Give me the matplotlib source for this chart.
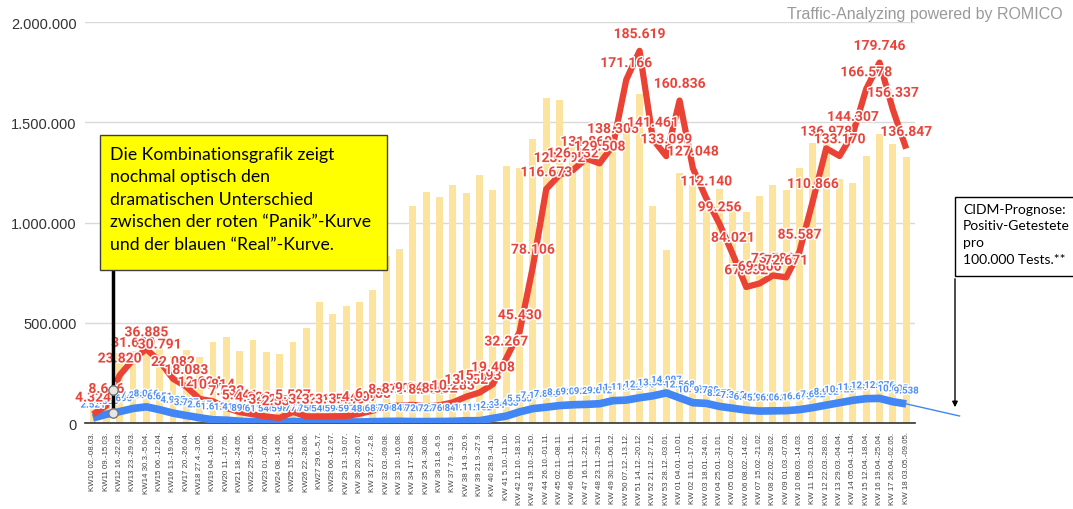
import numpy as np
import matplotlib
matplotlib.use('Agg')
from matplotlib import pyplot as plt
from matplotlib import patheffects as pe
from matplotlib.patches import Rectangle, FancyArrowPatch
from matplotlib.ticker import FuncFormatter

plt.rcParams['font.family'] = ['Liberation Sans', 'DejaVu Sans']

weeks = [
    'KW10 02.-08.03.', 'KW11 09.-15.03.', 'KW12 16.-22.03.', 'KW13 23.-29.03.',
    'KW14 30.3.-5.04.', 'KW15 06.-12.04.', 'KW16 13.-19.04.', 'KW17 20.-26.04.',
    'KW18 27.4.-3.05.', 'KW19 04.-10.05.', 'KW20 11.-17.05.', 'KW21 18.-24.05.',
    'KW22 25.-31.05.', 'KW23 01.-07.06.', 'KW24 08.-14.06.', 'KW25 15.-21.06.',
    'KW26 22.-28.06.', 'KW27 29.6.-5.7.', 'KW28 06.-12.07.', 'KW 29 13.-19.07.',
    'KW 30 20.-26.07.', 'KW 31 27.7.-2.8.', 'KW 32 03.-09.08.', 'KW 33 10.-16.08.',
    'KW 34 17.-23.08.', 'KW 35 24.-30.08.', 'KW 36 31.8.-6.9.', 'KW 37 7.9.-13.9.',
    'KW 38 14.9.-20.9.', 'KW 39 21.9.-27.9.', 'KW 40 28.9.-4.10.', 'KW 41 5.10.-11.10.',
    'KW 42 12.10.-18.10.', 'KW 43 19.10.-25.10.', 'KW 44 26.10.-01.11.', 'KW 45 02.11.-08.11.',
    'KW 46 09.11.-15.11.', 'KW 47 16.11.-22.11.', 'KW 48 23.11.-29.11.', 'KW 49 30.11.-06.12.',
    'KW 50 07.12.-13.12.', 'KW 51 14.12.-20.12.', 'KW 52 21.12.-27.12.', 'KW 53 28.12.-03.01.',
    'KW 01 04.01.-10.01.', 'KW 02 11.01.-17.01.', 'KW 03 18.01.-24.01.', 'KW 04 25.01.-31.01.',
    'KW 05 01.02.-07.02.', 'KW 06 08.02.-14.02.', 'KW 07 15.02.-21.02.', 'KW 08 22.02.-28.02.',
    'KW 09 01.03.-07.03.', 'KW 10 08.03.-14.03.', 'KW 11 15.03.-21.03.', 'KW 12 22.03.-28.03.',
    'KW 13 29.03.-04.04.', 'KW 14 05.04.-11.04.', 'KW 15 12.04.-18.04.', 'KW 16 19.04.-25.04.',
    'KW 17 26.04.-02.05.', 'KW 18 03.05.-09.05.',
]

# Anzahl Tests pro Woche (Balken)
tests = [
    120000, 127000, 349000, 361000, 408000, 380000, 332000, 364000, 327000, 404000,
    429000, 360000, 414000, 354000, 344000, 404000, 474000, 604000, 544000, 584000,
    604000, 665000, 833000, 868000, 1084000, 1151000, 1126000, 1189000, 1147000, 1237000,
    1162000, 1280000, 1272000, 1416000, 1623000, 1611000, 1420000, 1410000, 1390000, 1364000,
    1490000, 1640000, 1084000, 864000, 1245000, 1185000, 1060000, 1167000, 1067000, 1054000,
    1134000, 1189000, 1162000, 1272000, 1397000, 1408000, 1217000, 1195000, 1333000, 1441000,
    1390000, 1325000,
]

# rote "Panik"-Kurve
panik = [
    4324, 8646, 23820, 31630, 36885, 30791, 22082, 18083, 12024, 10814,
    7532, 5441, 4322, 3226, 2531, 5527, 3323, 3318, 3352, 3445,
    4607, 6185, 8275, 8702, 9048, 8284, 8832, 10283, 13152, 15193,
    19408, 32267, 45430, 78106, 116673, 123792, 126132, 131869, 129508, 138305,
    171166, 185619, 141461, 133099, 160836, 127048, 112140, 99256, 84021, 67832,
    69600, 73582, 72671, 85587, 110866, 136978, 133170, 144307, 166578, 179746,
    156337, 136847,
]

# blaue "Real"-Kurve
real = [
    2521, 4330, 5690, 7253, 8066, 6651, 4935, 3727, 2617, 1612,
    1413, 890, 611, 546, 598, 777, 750, 540, 594, 597,
    486, 687, 796, 847, 720, 722, 760, 841, 1115, 1152,
    2331, 3453, 5550, 7171, 7886, 8693, 9092, 9293, 9612, 11140,
    11422, 12596, 13560, 14997, 12568, 10120, 9788, 8273, 7362, 6452,
    5962, 6061, 6164, 6673, 7682, 8932, 10120, 11320, 12140, 12276,
    10605, 9538,
]
prognose_end = 3500

box_text = ('Die Kombinationsgrafik zeigt\nnochmal optisch den\ndramatischen Unterschied\n'
            'zwischen der roten \u201cPanik\u201d-Kurve\nund der blauen \u201cReal\u201d-Kurve.')
side_text = 'CIDM-Prognose:\nPositiv-Getestete\npro\n100.000 Tests.**'


def de(v):
    return f'{int(round(v)):,}'.replace(',', '.')


W, H = 1073, 510
fig = plt.figure(figsize=(W / 100, H / 100), dpi=100)
ax = fig.add_axes([85 / W, 1 - 424 / H, (915 - 85) / W, (424 - 23) / H])

x = np.arange(len(weeks))
ax.bar(x, tests, width=0.52, color='#fde49e', zorder=2)
ax.set_xlim(-0.6, len(weeks) - 0.34)
ax.set_ylim(0, 2000000)
ax.set_yticks(np.arange(0, 2000001, 500000))
ax.yaxis.set_major_formatter(FuncFormatter(lambda v, p: de(v)))
ax.grid(axis='y', color='#d9d9d9', lw=1)
ax.set_axisbelow(True)
for s in ['top', 'right', 'left']:
    ax.spines[s].set_visible(False)
ax.spines['bottom'].set_color('#333333')
ax.spines['bottom'].set_linewidth(1.2)
ax.tick_params(axis='y', length=0, pad=6, labelsize=10.5, labelcolor='#333333')
ax.set_xticks(x)
ax.set_xticklabels(weeks, rotation=90, fontsize=5.7, color='#444444')
ax.tick_params(axis='x', length=0, pad=6)

# Kurven auf zweiter Achse (0 - 200.000)
ax2 = ax.twinx()
ax2.set_ylim(0, 200000)
ax2.axis('off')

ax2.plot(x, real, color='#4285f4', lw=5.5, solid_capstyle='butt', zorder=2)
ax2.plot(x, panik, color='#ea4335', lw=4.5, solid_capstyle='butt', zorder=3)
ax2.plot([x[-1], x[-1] + 4], [real[-1], prognose_end], color='#4285f4', lw=1,
         clip_on=False, zorder=2)

halo = [pe.withStroke(linewidth=2, foreground='white')]
for xi, v in zip(x, real):
    ax2.annotate(de(v), (xi, v), xytext=(0, 6), textcoords='offset points',
                 ha='center', va='bottom', fontsize=7, fontweight='bold',
                 family=['Roboto', 'DejaVu Sans'], color='#4f8ef5',
                 path_effects=halo, zorder=4)
for xi, v in zip(x, panik):
    ax2.annotate(de(v), (xi, v), xytext=(0, 7), textcoords='offset points',
                 ha='center', va='bottom', fontsize=10, fontweight='bold',
                 family=['Roboto', 'DejaVu Sans'], color='#e8453c',
                 path_effects=halo, zorder=5)

# Hinweis-Linie mit Markierungen zwischen KW11 und KW12
mx = 1.5
ry = np.interp(mx, x, panik)
by = np.interp(mx, x, real)
ax2.plot([mx, mx], [by, 100000], color='black', lw=2.5, zorder=6, clip_on=False)
ax2.scatter([mx, mx], [ry, by], s=45, facecolor='#e6e6e6', edgecolor='#777777',
            lw=1, zorder=7)

# gelbe Textbox
fig.add_artist(Rectangle((100 / W, 1 - 271 / H), 287 / W, 135 / H,
                         transform=fig.transFigure, facecolor='#ffff00',
                         edgecolor='#404040', lw=1, zorder=5))
fig.text(110 / W, 1 - 147 / H, box_text, ha='left', va='top', fontsize=12.7,
         family=['Lato', 'DejaVu Sans'], linespacing=1.5, zorder=6)

# rechte Box mit Pfeil
fig.add_artist(Rectangle((955 / W, 1 - 277 / H), 130 / W, 79 / H,
                         transform=fig.transFigure, fill=False,
                         edgecolor='black', lw=1, zorder=5))
fig.text(963 / W, 1 - 204 / H, side_text, ha='left', va='top', fontsize=10,
         family=['Lato', 'DejaVu Sans'], linespacing=1.45, zorder=6)
fig.add_artist(FancyArrowPatch((955 / W, 1 - 277 / H), (955 / W, 1 - 411 / H),
                               transform=fig.transFigure, arrowstyle='-|>',
                               mutation_scale=8, lw=1, color='black', zorder=5))

fig.text(1063 / W, 1 - 15 / H, 'Traffic-Analyzing powered by ROMICO', ha='right',
         va='center', fontsize=11.5, color='#9a9a9a')

fig.savefig('out.png', dpi=100)
